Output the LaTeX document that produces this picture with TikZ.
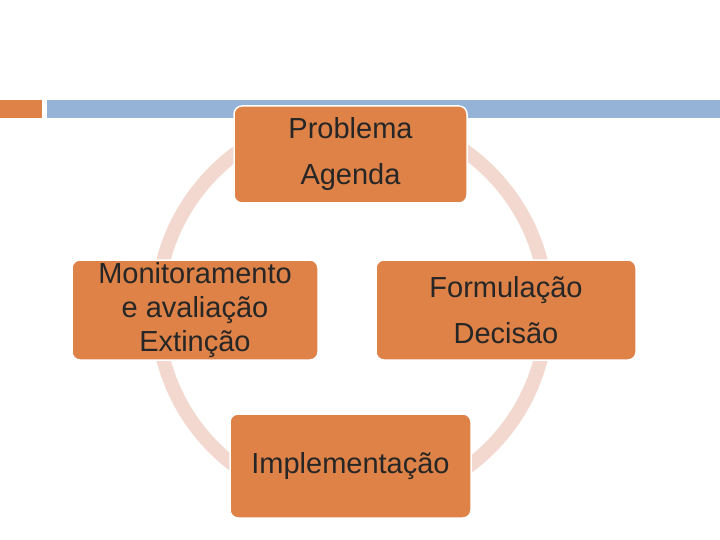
\documentclass[tikz,border=0pt]{standalone}
\usepackage{fontspec}
\setmainfont{Liberation Sans}
\usetikzlibrary{positioning}
\definecolor{boxorange}{RGB}{222,130,72}
\definecolor{barblue}{RGB}{149,179,215}
\definecolor{ringpink}{RGB}{242,216,207}
\tikzset{
  stagebox/.style={draw=white,line width=1.5pt,fill=boxorange,rounded corners=8pt,
    align=center,text=black!85,font=\fontsize{29}{46}\selectfont,inner sep=0pt}
}
\begin{document}
\begin{tikzpicture}[x=1pt,y=-1pt]
\useasboundingbox (0,0) rectangle (720,540);
% bars
\fill[boxorange] (0,100) rectangle (42,118);
\fill[barblue] (47,100) rectangle (720,118);
% ring
\draw[ringpink,line width=14pt] (352,310) circle (195);
% stages
\node[stagebox,minimum width=233pt,minimum height=97pt] (prob) at (350.5,154.5) {Problema\\Agenda};
\node[stagebox,minimum width=246pt,minimum height=100pt,
  font=\fontsize{29}{34}\selectfont] (mon) at (195,310)
  {Monitoramento\\e avaliação\\Extinção};
\node[stagebox,minimum width=260pt,minimum height=100pt] (form) at (506,310) {Formulação\\Decisão};
\node[stagebox,minimum width=241pt,minimum height=104pt] (impl) at (350.5,466) {Implementação};
\end{tikzpicture}
\end{document}
